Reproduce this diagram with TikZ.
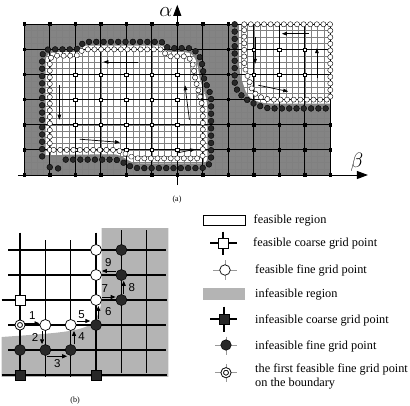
\documentclass[tikz,border=0pt]{standalone}
\usepackage{fontspec}
\setmainfont{Liberation Serif}
\newfontfamily\cifras{Liberation Sans}
\usetikzlibrary{positioning}
\usetikzlibrary{arrows.meta}
\usetikzlibrary{decorations.markings}
\definecolor{figGris}{RGB}{132,132,132}
\definecolor{figGrisClaro}{RGB}{180,180,180}
\definecolor{figOscuro}{RGB}{40,40,40}
\tikzset{
  finaa/.style={draw=black!50, line width=0.35pt},
  gruesaa/.style={draw=black, line width=0.9pt},
  eje/.style={line width=0.9pt, -{Triangle[length=11pt,width=8pt]}},
  flechaa/.style={line width=0.7pt, -{Triangle[length=5pt,width=3.6pt]}},
  cuadrob/.style={rectangle, draw=black, line width=0.4pt, fill=white, minimum size=3.4pt, inner sep=0pt},
  cuadron/.style={rectangle, fill=black, minimum size=3.6pt, inner sep=0pt},
  bordeb/.style={decoration={markings, mark=between positions 0 and 1 step 6.6pt with {\draw[fill=white, line width=0.4pt] (0,0) circle (2.6pt);}}, postaction={decorate}},
  borden/.style={decoration={markings, mark=between positions 0 and 1 step 7.3pt with {\draw[fill=figOscuro, line width=0.4pt] (0,0) circle (2.9pt);}}, postaction={decorate}},
  finab/.style={draw=black, line width=1.1pt},
  gruesab/.style={draw=black, line width=2pt},
  puntob/.style={circle, draw=black, line width=0.7pt, fill=white, minimum size=11pt, inner sep=0pt},
  punton/.style={circle, draw=black, line width=0.5pt, fill=figOscuro, minimum size=11pt, inner sep=0pt},
  puntoi/.style={circle, draw=black, line width=0.9pt, double=white, double distance=1.4pt, fill=white, minimum size=7.6pt, inner sep=0pt},
  cuadrog/.style={rectangle, draw=black, line width=0.7pt, fill=white, minimum size=10pt, inner sep=0pt},
  cuadrogn/.style={rectangle, draw=black, fill=figOscuro, minimum size=10pt, inner sep=0pt},
  flechab/.style={line width=0.9pt, -{Triangle[length=5pt,width=4pt]}},
  numero/.style={font=\cifras\fontsize{11.5}{12}\selectfont, inner sep=0pt},
  texto/.style={anchor=west, font=\fontsize{12.3}{14}\selectfont, inner sep=0pt, align=left},
  rotulo/.style={font=\fontsize{8}{9}\selectfont, inner sep=0pt},
  ejetexto/.style={font=\fontsize{22}{22}\selectfont, inner sep=0pt},
  cruzf/.style={draw=black!40, line width=0.8pt},
  cruzg/.style={draw=black, line width=2.2pt}
}

\begin{document}
\begin{tikzpicture}[x=1pt, y=-1pt]
  \useasboundingbox (0,0) rectangle (410,405);

  % (a) espacio de parametros
  \begin{scope}[shift={(24.3,175)}, x=6.375pt, y=6.28pt]
    \fill[figGris] (0,0) rectangle (48,24);
    \fill[white] (3.35,3.2) -- (3.35,18.2) .. controls (3.35,19.1) and (4,19.55) .. (5,19.55) -- (8,19.55)
      .. controls (8.7,19.55) and (8.8,20.6) .. (9.7,20.6) -- (21.4,20.6) .. controls (22.1,20.6) and (22.1,19.55) .. (22.8,19.55)
      -- (25.2,19.55) .. controls (26.9,19.55) and (27.2,17.5) .. (27.4,16) .. controls (27.6,14.3) and (28.7,13) .. (28.7,10.5)
      -- (28.7,2.8) .. controls (28.7,2.2) and (28.4,1.85) .. (27.6,1.85) -- (18,1.85)
      .. controls (16.3,1.85) and (15.6,3.3) .. (14,3.3) -- cycle;
    \fill[white] (33.7,24.35) -- (48.35,24.35) -- (48.35,11.35) -- (39.5,11.35)
      .. controls (36.5,11.4) and (35,12) .. (34.5,14) .. controls (34,15.5) and (33.7,16.5) .. (33.7,18) -- cycle;
    \foreach \i in {0,...,48} \draw[finaa] (\i,0) -- (\i,24);
    \foreach \j in {0,...,24} \draw[finaa] (0,\j) -- (48,\j);
    \foreach \i in {0,4,...,48} \draw[gruesaa] (\i,0) -- (\i,24);
    \foreach \j in {4,8,...,24} \draw[gruesaa] (0,\j) -- (48,\j);
    \draw[eje] (-1,0) -- (53.9,0);
    \draw[eje] (24,-1.6) -- (24,27.1);
    % puntos gruesos
    \foreach \i in {0,4,...,48}
      \foreach \j in {0,4,...,24} {
        \pgfmathtruncatemacro\dentro{(\i>=4 && \i<=28 && \j>=4 && \j<=20) || (\i>=36 && \j>=12)}
        \ifnum\dentro=0 \node[cuadron] (a\i-\j) at (\i,\j) {}; \fi
      }
    \foreach \i in {8,12,...,24}
      \foreach \j in {4,8,12,16} \node[cuadrob] (a\i-\j) at (\i,\j) {};
    \foreach \i in {36,40,44}
      \foreach \j in {16,20} \node[cuadrob] (a\i-\j) at (\i,\j) {};
    % frontera
    \path[borden] (6.5,2.45) -- (14,2.45) .. controls (15.5,2.45) and (16.2,1.1) .. (18,1.1) -- (27.5,1.1)
      .. controls (28.8,1.1) and (29.3,1.8) .. (29.3,3) -- (29.3,12) .. controls (29.3,13.5) and (28.2,14.5) .. (28.1,16)
      .. controls (28,18) and (27.4,20.2) .. (25.5,20.2) -- (22.8,20.2) .. controls (22.2,20.2) and (22,21.2) .. (21.3,21.2)
      -- (9.8,21.2) .. controls (9,21.2) and (8.6,20) .. (8,20) -- (4,20) .. controls (3.2,20) and (2.8,19.5) .. (2.8,18.5) -- (2.8,2.6);
    \fill[figOscuro, draw=black, line width=0.4pt] (4,1.25) circle (2.9pt) (5.3,1.05) circle (2.9pt);
    \path[bordeb] (4,4) -- (4,18) .. controls (4,18.7) and (4.4,19) .. (5,19) -- (8,19) .. controls (8.6,19) and (8.8,20) .. (9.6,20)
      -- (21.5,20) .. controls (22,20) and (22,18.9) .. (22.8,18.9) -- (25,18.9) .. controls (26.3,18.9) and (26.5,17.5) .. (26.7,16)
      .. controls (27,14) and (28,12) .. (28,9.5) -- (28,3.3) .. controls (28,2.9) and (27.8,2.65) .. (27.3,2.65) -- (18,2.65)
      .. controls (16.5,2.65) and (15.5,4) .. (14,4) -- cycle;
    \path[borden] (33,24) -- (33,15) .. controls (33,13) and (35,11.6) .. (37.5,10.8) .. controls (38,10.65) and (38.5,10.6) .. (39,10.6) -- (48,10.6);
    \path[bordeb] (34.5,24) -- (48,24) -- (48,12) -- (39.5,12) .. controls (37,12) and (35.8,12.8) .. (35.4,14.6)
      .. controls (35,16) and (34.5,17) .. (34.5,18) -- cycle;
    % sentido de recorrido
    \draw[flechaa] (17.8,18) -- (12.4,18);
    \draw[flechaa] (5.5,14.3) -- (5.5,8.8);
    \draw[flechaa] (8.7,5.7) -- (15,5.2);
    \draw[flechaa] (25.9,8.8) -- (25.2,14.3);
    \draw[flechaa] (23.9,3.5) -- (26.8,4.1);
    \draw[flechaa] (44.6,22.5) -- (40.4,22.5);
    \draw[flechaa] (36.2,22) -- (36.2,17.7);
    \draw[flechaa] (45.9,15.4) -- (45.9,20.2);
    \draw[flechaa] (36.7,14.3) -- (41.4,13.3);
  \end{scope}
  \node[ejetexto] (alfa) at (166,12) {$\alpha$};
  \node[ejetexto] (beta) at (357,162) {$\beta$};
  \node[rotulo] (ra) at (177,200) {(a)};

  % (b) detalle de la frontera
  \begin{scope}[shift={(20,250)}, x=25.35pt, y=-25pt]
    \fill[figGrisClaro] (3.22,-0.88) -- (5.85,-0.88) -- (5.85,5.07) -- (-0.72,5.07) -- (-0.72,3.48)
      .. controls (1,3.35) and (2.2,3.3) .. (2.7,3.02) .. controls (3.1,2.75) and (3.22,2.3) .. (3.22,1.8) -- cycle;
    \foreach \r in {0,1,3,4} \draw[finab] (-0.47,\r) -- (5.76,\r);
    \foreach \r in {2,5} \draw[gruesab] (-0.72,\r) -- (5.8,\r);
    \foreach \c in {1,2} \draw[finab] (\c,-0.4) -- (\c,5.08);
    \foreach \c in {4,5} \draw[finab] (\c,-0.8) -- (\c,4.9);
    \foreach \c in {0,3} \draw[gruesab] (\c,-0.7) -- (\c,5.12);

    \node[puntoi] (p03) at (0,3) {};
    \node[puntob] (p13) at (1,3) {};
    \node[puntob] (p23) at (2,3) {};
    \node[puntob] (p32) at (3,2) {};
    \node[puntob] (p31) at (3,1) {};
    \node[puntob] (p30) at (3,0) {};
    \node[punton] (p33) at (3,3) {};
    \node[punton] (p42) at (4,2) {};
    \node[punton] (p41) at (4,1) {};
    \node[punton] (p40) at (4,0) {};
    \node[punton] (p04) at (0,4) {};
    \node[punton] (p14) at (1,4) {};
    \node[punton] (p24) at (2,4) {};
    \node[cuadrog] (q02) at (0,2) {};
    \node[cuadrogn] (q05) at (0,5) {};
    \node[cuadrogn] (q35) at (3,5) {};

    \draw[flechab] ([yshift=1.7pt]p03.east) -- ([yshift=1.7pt]p13.west);
    \draw[flechab] ([xshift=-3.3pt]p13.south) -- ([xshift=-3.3pt]p14.north);
    \draw[flechab] ([xshift=1.5pt,yshift=-0.5pt]p14.south) -- ([xshift=-3.5pt,yshift=-0.5pt]p24.south);
    \draw[flechab] ([xshift=3.3pt]p24.north) -- ([xshift=3.3pt]p23.south);
    \draw[flechab] ([yshift=4pt]p23.east) -- ([yshift=4pt]p33.west);
    \draw[flechab] ([xshift=2.3pt]p33.north) -- ([xshift=2.3pt]p32.south);
    \draw[flechab] ([yshift=3pt]p32.east) -- ([yshift=3pt]p42.west);
    \draw[flechab] ([xshift=2.3pt]p42.north) -- ([xshift=2.3pt]p41.south);
    \draw[flechab] ([yshift=4pt]p41.west) -- ([yshift=4pt]p31.east);

    \node[numero] (n1) at (0.49,2.64) {1};
    \node[numero] (n2) at (0.59,3.49) {2};
    \node[numero] (n3) at (1.47,4.56) {3};
    \node[numero] (n4) at (2.43,3.47) {4};
    \node[numero] (n5) at (2.43,2.57) {5};
    \node[numero] (n6) at (3.48,2.47) {6};
    \node[numero] (n7) at (3.35,1.56) {7};
    \node[numero] (n8) at (4.41,1.49) {8};
    \node[numero] (n9) at (3.48,0.49) {9};
    \node[rotulo] (rb) at (2.17,6.04) {(b)};
  \end{scope}

  % leyenda
  \node[rectangle, draw=black, line width=0.8pt, fill=white, minimum width=41.7pt, minimum height=10pt, inner sep=0pt] (ley1) at (224.2,220) {};
  \node[texto] (t1) at (253.5,220) {feasible region};

  \draw[cruzg] (210,243.3) -- (236.7,243.3) (223.3,231.7) -- (223.3,255.3);
  \node[cuadrog] (ley2) at (223.3,243.3) {};
  \node[texto] (t2) at (253,243.3) {feasible coarse grid point};

  \draw[cruzf] (213,270) -- (237,270) (225,260) -- (225,280);
  \node[puntob, minimum size=10.5pt] (ley3) at (225,270) {};
  \node[texto] (t3) at (255,270) {feasible fine grid point};

  \node[rectangle, fill=figGrisClaro, minimum width=41.7pt, minimum height=11.7pt, inner sep=0pt] (ley4) at (224.2,294.2) {};
  \node[texto] (t4) at (255,294) {infeasible region};

  \draw[cruzg] (210,319.3) -- (237,319.3) (224,306.7) -- (224,331.7);
  \node[cuadrogn] (ley5) at (224,319.3) {};
  \node[texto] (t5) at (255,320) {infeasible coarse grid point};

  \draw[cruzf] (215,345) -- (237,345) (226,336.7) -- (226,355);
  \node[punton, minimum size=10.5pt] (ley6) at (226,345) {};
  \node[texto] (t6) at (255,346) {infeasible fine grid point};

  \draw[cruzf] (215,372.7) -- (237,372.7) (226,364) -- (226,382);
  \node[puntoi] (ley7) at (226,372.7) {};
  \node[texto] (t7) at (255,376.3) {the first feasible fine grid point\\on the boundary};
\end{tikzpicture}
\end{document}
